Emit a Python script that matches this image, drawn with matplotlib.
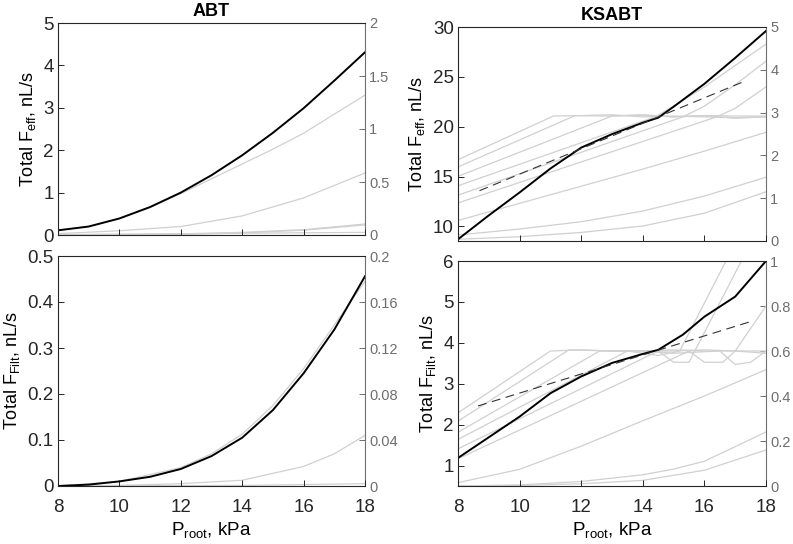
import numpy as np
import matplotlib
matplotlib.use("Agg")
import matplotlib.pyplot as plt

plt.rcParams['font.family'] = ['Liberation Sans', 'DejaVu Sans']
plt.rcParams['mathtext.fontset'] = 'custom'
plt.rcParams['mathtext.rm'] = 'Liberation Sans'
plt.rcParams['mathtext.it'] = 'Liberation Sans'

# ---------------- data ----------------
x_int = [8, 9, 10, 11, 12, 13, 14, 15, 16, 17, 18]

# ABT, total effective flow (left axis, nL/s)
abt_eff_total = [0.11, 0.20, 0.39, 0.66, 1.00, 1.41, 1.88, 2.41, 2.99, 3.64, 4.31]
# ABT, individual contributions (right axis)
abt_eff_parts = [
    ([8, 9, 10, 11, 12, 13, 14, 15, 16, 17, 18],
     [0.045, 0.08, 0.155, 0.26, 0.39, 0.53, 0.67, 0.81, 0.96, 1.14, 1.32]),
    ([8, 10, 12, 14, 16, 18], [0.013, 0.04, 0.08, 0.18, 0.35, 0.585]),
    ([8, 12, 14, 16, 18], [0.0, 0.01, 0.025, 0.05, 0.104]),
    ([8, 12, 14, 16, 18], [0.0, 0.005, 0.02, 0.045, 0.095]),
    ([8, 18], [0.004, 0.025]),
    ([8, 18], [0.001, 0.001]),
]

abt_filt_total = [0.0, 0.003, 0.010, 0.020, 0.037, 0.065, 0.105, 0.165, 0.245, 0.340, 0.456]
abt_filt_parts = [
    ([8, 10, 12, 13, 14, 15, 16, 17, 18],
     [0.0, 0.004, 0.016, 0.028, 0.045, 0.070, 0.102, 0.140, 0.178]),
    ([8, 10, 12, 14, 16, 17, 18], [0.0, 0.0005, 0.002, 0.005, 0.017, 0.028, 0.044]),
    ([8, 14, 18], [0.0, 0.0005, 0.002]),
]

# KSABT, total effective flow
ks_x = [8, 9, 10, 11, 12, 13, 14, 14.5, 15, 16, 17, 18]
ks_eff_total = [8.7, 11.1, 13.4, 15.8, 17.9, 19.25, 20.4, 20.9, 22.0, 24.3, 26.9, 29.6]
ks_eff_fit_x = [8.7, 17.3]
ks_eff_fit_y = [13.58, 24.55]
ks_eff_parts = [
    ([8, 11.1, 12, 13, 14, 15, 16, 17, 18], [1.90, 2.92, 2.93, 2.95, 2.90, 2.92, 2.90, 2.88, 2.90]),
    ([8, 11.8, 13, 14, 15, 16, 17, 18], [1.73, 2.93, 2.92, 2.94, 2.90, 2.93, 2.92, 2.92]),
    ([8, 13.0, 14, 15, 16, 17, 18], [1.51, 2.92, 2.95, 2.90, 2.93, 2.87, 2.90]),
    ([8, 14.4, 15, 16, 17, 18], [1.29, 2.90, 3.15, 3.60, 4.10, 4.60]),
    ([8, 15.3, 16, 17, 18], [1.07, 2.90, 3.15, 3.65, 4.20]),
    ([8, 16.4, 17, 18], [0.89, 2.90, 3.10, 3.60]),
    ([8, 10, 12, 14, 16, 18], [0.48, 0.88, 1.28, 1.68, 2.10, 2.54]),
    ([8, 10, 12, 14, 16, 18], [0.14, 0.28, 0.45, 0.70, 1.05, 1.49]),
    ([8, 10, 12, 14, 16, 18], [0.04, 0.10, 0.20, 0.35, 0.65, 1.15]),
]

# KSABT, total filtration
ks_filt_x = [8, 10, 11, 12, 13, 14, 14.5, 15.3, 16, 17, 18]
ks_filt_total = [1.19, 2.20, 2.77, 3.18, 3.51, 3.73, 3.83, 4.20, 4.64, 5.13, 6.00]
ks_filt_fit_x = [8.65, 17.5]
ks_filt_fit_y = [2.46, 4.52]
ks_filt_parts = [
    ([8, 11.0, 12, 13, 14, 15, 16, 17, 18], [0.325, 0.600, 0.605, 0.600, 0.600, 0.600, 0.605, 0.600, 0.600]),
    ([8, 11.6, 13, 14, 15, 16, 17, 18], [0.288, 0.605, 0.600, 0.600, 0.605, 0.600, 0.600, 0.590]),
    ([8, 12.6, 14, 15, 16.5, 17, 17.5, 18], [0.239, 0.600, 0.600, 0.590, 0.600, 0.540, 0.550, 0.600]),
    ([8, 13.5, 14.5, 15.2, 16.7, 17.2], [0.207, 0.600, 0.580, 0.600, 1.000, 1.100]),
    ([8, 14.5, 15.0, 15.5, 17.2, 17.6], [0.165, 0.600, 0.550, 0.550, 1.000, 1.100]),
    ([8, 15.5, 16, 16.6, 17, 18], [0.121, 0.600, 0.550, 0.550, 0.600, 0.800]),
    ([8, 10, 12, 14, 16, 18], [0.015, 0.074, 0.177, 0.290, 0.400, 0.517]),
    ([8, 10, 12, 14, 15, 16, 18], [0.0, 0.005, 0.020, 0.050, 0.075, 0.110, 0.240]),
    ([8, 10, 12, 14, 16, 18], [0.0, 0.002, 0.010, 0.025, 0.070, 0.160]),
]

# ---------------- figure ----------------
fig = plt.figure(figsize=(7.93, 5.44), dpi=100)
W, H = 793, 544


def make_axes(x0, x1, y0, y1):
    return fig.add_axes([x0 / W, 1 - y1 / H, (x1 - x0) / W, (y1 - y0) / H])


dark = '#262626'
rgray = '#6e6e6e'
lgray = '#d0d0d0'


def style(ax, ax2, ylim, yticks, ylim2, yticks2, ylabel, bottom, title=None):
    ax.set_zorder(ax2.get_zorder() + 1)
    ax.patch.set_visible(False)
    ax.set_xlim(8, 18)
    ax.set_xticks([8, 10, 12, 14, 16, 18])
    ax.set_ylim(*ylim)
    ax.set_yticks(yticks)
    ax.set_yticklabels([f'{t:g}' for t in yticks])
    ax2.set_ylim(*ylim2)
    ax2.set_yticks(yticks2)
    ax2.set_yticklabels([f'{t:g}' for t in yticks2])
    ax.tick_params(direction='in', length=4, width=0.7, colors=dark, labelsize=13.5, pad=3)
    ax.tick_params(axis='x', pad=9)
    ax2.tick_params(direction='in', length=4, width=0.7, colors=rgray, labelsize=10.5, pad=3)
    for s in ['left', 'bottom', 'top']:
        ax.spines[s].set_color(dark)
        ax.spines[s].set_linewidth(0.8)
    ax.spines['right'].set_visible(False)
    for s in ['left', 'bottom', 'top']:
        ax2.spines[s].set_visible(False)
    ax2.spines['right'].set_color(rgray)
    ax2.spines['right'].set_linewidth(0.8)
    ax.set_ylabel(ylabel, fontsize=13, labelpad=4)
    if bottom:
        ax.set_xlabel('P$_{root}$, kPa', fontsize=13.5, labelpad=3)
    else:
        ax.set_xticklabels([])
    if title:
        ax.set_title(title, fontsize=13, fontweight='bold', pad=5)


eff_label = 'Total F$_{eff}$, nL/s'
filt_label = 'Total F$_{Filt}$, nL/s'

# ABT effective
ax = make_axes(58, 365, 23, 235)
ax2 = ax.twinx()
for px, py in abt_eff_parts:
    ax2.plot(px, py, color=lgray, lw=0.9)
ax.plot(x_int, abt_eff_total, color='black', lw=1.4)
style(ax, ax2, (0, 5), [0, 1, 2, 3, 4, 5], (0, 2), [0, 0.5, 1, 1.5, 2], eff_label, False, 'ABT')

# ABT filtration
ax = make_axes(58, 365, 256, 486)
ax2 = ax.twinx()
for px, py in abt_filt_parts:
    ax2.plot(px, py, color=lgray, lw=0.9)
ax.plot(x_int, abt_filt_total, color='black', lw=1.4)
style(ax, ax2, (0, 0.5), [0, 0.1, 0.2, 0.3, 0.4, 0.5], (0, 0.2),
      [0, 0.04, 0.08, 0.12, 0.16, 0.2], filt_label, True)

# KSABT effective
ax = make_axes(458, 766, 27, 241)
ax2 = ax.twinx()
for px, py in ks_eff_parts:
    ax2.plot(px, py, color=lgray, lw=0.9)
ax.plot(ks_x, ks_eff_total, color='black', lw=1.4)
ax.plot(ks_eff_fit_x, ks_eff_fit_y, color='#333333', lw=0.8, dashes=(8, 5))
style(ax, ax2, (8.53, 30), [10, 15, 20, 25, 30], (0, 5), [0, 1, 2, 3, 4, 5], eff_label, False, 'KSABT')

# KSABT filtration
ax = make_axes(458, 766, 261, 486)
ax2 = ax.twinx()
for px, py in ks_filt_parts:
    ax2.plot(px, py, color=lgray, lw=0.9)
ax.plot(ks_filt_x, ks_filt_total, color='black', lw=1.4)
ax.plot(ks_filt_fit_x, ks_filt_fit_y, color='#333333', lw=0.8, dashes=(8, 5))
style(ax, ax2, (0.505, 6), [1, 2, 3, 4, 5, 6], (0, 1), [0, 0.2, 0.4, 0.6, 0.8, 1], filt_label, True)

fig.savefig('out.png', dpi=100)
